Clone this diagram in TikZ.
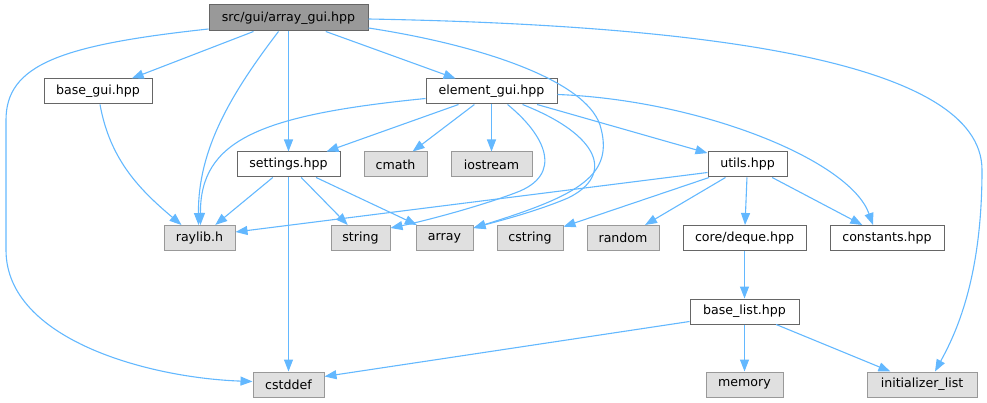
\documentclass[tikz,border=0pt]{standalone}
\usepackage{fontspec}
\setmainfont{DejaVu Sans}
\usetikzlibrary{arrows.meta,positioning}
\definecolor{edgeblue}{HTML}{63B8FF}
\definecolor{darkframe}{HTML}{666666}
\definecolor{lightframe}{HTML}{999999}
\definecolor{sysfill}{HTML}{E0E0E0}

\begin{document}
\begin{tikzpicture}[
  x=1pt, y=-1pt,
  font=\fontsize{12.6}{15}\selectfont,
  hdr/.style={draw=darkframe, fill=white, line width=1pt, inner sep=0pt, minimum height=25pt},
  rootfile/.style={hdr, fill=lightframe},
  sysfile/.style={hdr, draw=lightframe, fill=sysfill},
  inc/.style={-{Triangle[length=12pt, width=9pt]}, edgeblue, line width=1.1pt}
]
\useasboundingbox (0,0) rectangle (987,403);
\node[rootfile, minimum width=159pt, minimum height=26pt] (arraygui) at (288.5,18) {src/gui/array\_gui.hpp};
\node[hdr, minimum width=108pt] (basegui) at (98,91.5) {base\_gui.hpp};
\node[hdr, minimum width=131pt] (elemgui) at (491.5,91.5) {element\_gui.hpp};
\node[hdr, minimum width=103pt] (settings) at (288.5,164.5) {settings.hpp};
\node[sysfile, minimum width=63pt] (cmath) at (395.5,164.5) {cmath};
\node[sysfile, minimum width=81pt] (iostream) at (491.5,164.5) {iostream};
\node[hdr, minimum width=79pt] (utils) at (747.5,164.5) {utils.hpp};
\node[sysfile, minimum width=71pt] (raylib) at (199.5,238) {raylib.h};
\node[sysfile, minimum width=59pt] (string) at (360.5,238) {string};
\node[sysfile, minimum width=57pt] (array) at (444.5,238) {array};
\node[sysfile, minimum width=66pt] (cstring) at (530,238) {cstring};
\node[sysfile, minimum width=72pt] (random) at (623,238) {random};
\node[hdr, minimum width=123pt] (deque) at (744.5,238) {core/deque.hpp};
\node[hdr, minimum width=114pt] (constants) at (887,238) {constants.hpp};
\node[hdr, minimum width=109pt] (baselist) at (744.5,311.5) {base\_list.hpp};
\node[sysfile, minimum width=71pt] (cstddef) at (288.5,384.5) {cstddef};
\node[sysfile, minimum width=77pt] (memory) at (744.5,384.5) {memory};
\node[sysfile, minimum width=110pt] (initlist) at (922,384.5) {initializer\_list};

\draw[inc] (arraygui) -- (basegui);
\draw[inc] (arraygui) -- (elemgui);
\draw[inc] (arraygui) -- (settings);
\draw[inc] ([xshift=-10pt]arraygui.south) .. controls (230,95) and (198,150) .. ([xshift=-1pt]raylib.north);
\draw[inc] ([yshift=-11pt]arraygui.west) .. controls (60,45) and (6,65) .. (6,120) -- (6,250) .. controls (6,340) and (150,378) .. ([yshift=3pt]cstddef.west);
\draw[inc] ([yshift=-10pt]arraygui.east) .. controls (480,45) and (585,80) .. (600,125) .. controls (615,175) and (580,195) .. ([yshift=10pt]array.east);
\draw[inc] ([yshift=-1pt]arraygui.east) .. controls (700,25) and (982,60) .. (982,170) .. controls (982,280) and (955,335) .. ([xshift=13pt]initlist.north);
\draw[inc] ([xshift=2pt]basegui.south) .. controls (110,160) and (140,190) .. ([xshift=-18pt]raylib.north);
\draw[inc] ([yshift=-7pt]elemgui.west) .. controls (260,115) and (200,140) .. ([xshift=1pt]raylib.north);
\draw[inc] ([xshift=-33pt]elemgui.south) -- ([xshift=38pt]settings.north);
\draw[inc] (elemgui) -- (cmath);
\draw[inc] (elemgui) -- (iostream);
\draw[inc] ([xshift=16pt]elemgui.south) .. controls (545,135) and (565,175) .. (515,193) .. controls (475,208) and (420,222) .. ([yshift=10pt]string.east);
\draw[inc] ([xshift=31pt]elemgui.south) .. controls (600,135) and (615,175) .. (568,198) .. controls (535,212) and (495,222) .. ([yshift=10pt]array.east);
\draw[inc] (elemgui) -- (utils);
\draw[inc] ([yshift=-3pt]elemgui.east) .. controls (700,100) and (850,160) .. ([xshift=-14pt]constants.north);
\draw[inc] (settings) -- (raylib);
\draw[inc] (settings) -- (string);
\draw[inc] (settings) -- (array);
\draw[inc] (settings) -- (cstddef);
\draw[inc] ([yshift=-8pt]utils.west) -- ([yshift=6pt]raylib.east);
\draw[inc] (utils) -- (cstring);
\draw[inc] (utils) -- (random);
\draw[inc] (utils) -- (deque);
\draw[inc] (utils) -- (constants);
\draw[inc] (deque) -- (baselist);
\draw[inc] ([yshift=-10pt]baselist.west) -- ([yshift=8pt]cstddef.east);
\draw[inc] (baselist) -- (memory);
\draw[inc] (baselist) -- (initlist);
\end{tikzpicture}
\end{document}
